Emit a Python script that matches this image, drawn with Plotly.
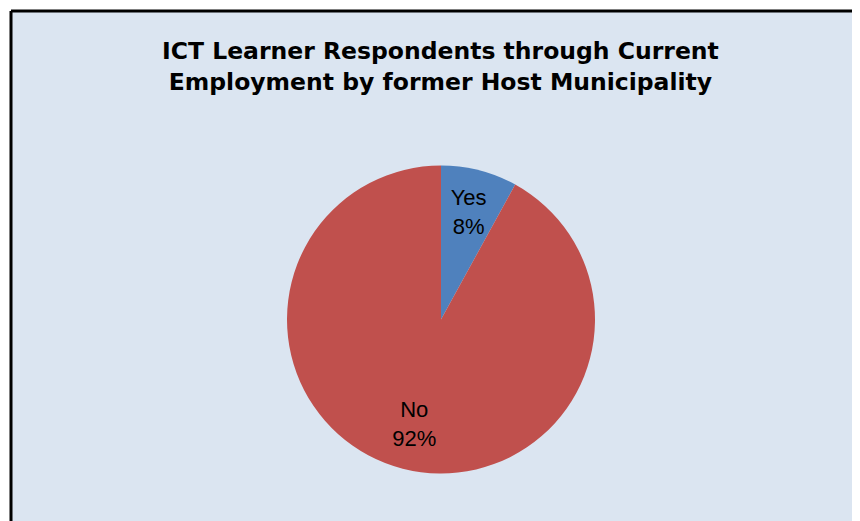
import plotly.graph_objects as go

categories = ["Yes", "No"]
values = [8, 92]
colors = ["#4f81bd", "#c0504d"]
title_lines = ["ICT Learner Respondents through Current", "Employment by former Host Municipality"]

# page body has an 8px margin, so the figure fills the rest of the window
W, H = 852, 513
OFF = 8
cx, cy, r = 441 - OFF, 319.5 - OFF, 154


def dom(rad):
    return dict(x=[(cx - rad) / W, (cx + rad) / W], y=[(H - cy - rad) / H, (H - cy + rad) / H])


label_tpl = "%{label}<br>%{percent:.0%}"
label_font = dict(family="Liberation Sans Narrow, Arial Narrow, Liberation Sans, sans-serif", size=22, color="#000000")
clear = ["rgba(0,0,0,0)"] * len(values)

fig = go.Figure()
# visible slices
fig.add_trace(go.Pie(
    labels=categories, values=values,
    marker=dict(colors=colors, line=dict(width=0)),
    sort=False, direction="clockwise", rotation=0,
    textinfo="none", showlegend=False, hoverinfo="label+percent",
    domain=dom(r),
))
# same data, transparent: only carry the data labels (placed like Excel's best fit)
fig.add_trace(go.Pie(
    labels=categories, values=values, hole=0.4,
    marker=dict(colors=clear, line=dict(width=0)),
    sort=False, direction="clockwise", rotation=0,
    texttemplate=["", label_tpl], textposition="inside", insidetextorientation="horizontal",
    textfont=label_font, showlegend=False, hoverinfo="skip",
    domain=dom(r),
))
fig.add_trace(go.Pie(
    labels=categories, values=values,
    marker=dict(colors=clear, line=dict(width=0)),
    sort=False, direction="clockwise", rotation=0,
    texttemplate=[label_tpl, ""], textposition="inside", insidetextorientation="horizontal",
    textfont=label_font, showlegend=False, hoverinfo="skip",
    domain=dom(r * 0.9),
))

bx = 3 / W
by = 1 - 3 / H
fig.update_layout(
    width=W, height=H,
    margin=dict(l=0, r=0, t=0, b=0),
    paper_bgcolor="#dbe5f1",
    plot_bgcolor="#dbe5f1",
    uniformtext=dict(minsize=22, mode="show"),
    annotations=[dict(
        text="<br>".join(title_lines),
        x=(441 - OFF) / W, y=1 - (67 - OFF) / H, xref="paper", yref="paper",
        xanchor="center", yanchor="middle", showarrow=False,
        font=dict(family="DejaVu Sans, sans-serif", size=23.5, color="#000000", weight="bold"),
    )],
    shapes=[
        dict(type="rect", xref="paper", yref="paper", x0=0, x1=bx, y0=0, y1=1,
             fillcolor="#ffffff", line=dict(width=0), layer="below"),
        dict(type="rect", xref="paper", yref="paper", x0=0, x1=1, y0=by, y1=1,
             fillcolor="#ffffff", line=dict(width=0), layer="below"),
        dict(type="line", xref="paper", yref="paper", x0=bx, x1=1, y0=by, y1=by,
             line=dict(color="#000000", width=3)),
        dict(type="line", xref="paper", yref="paper", x0=bx, x1=bx, y0=0, y1=by,
             line=dict(color="#000000", width=3)),
    ],
)

fig.write_html("out.html")
